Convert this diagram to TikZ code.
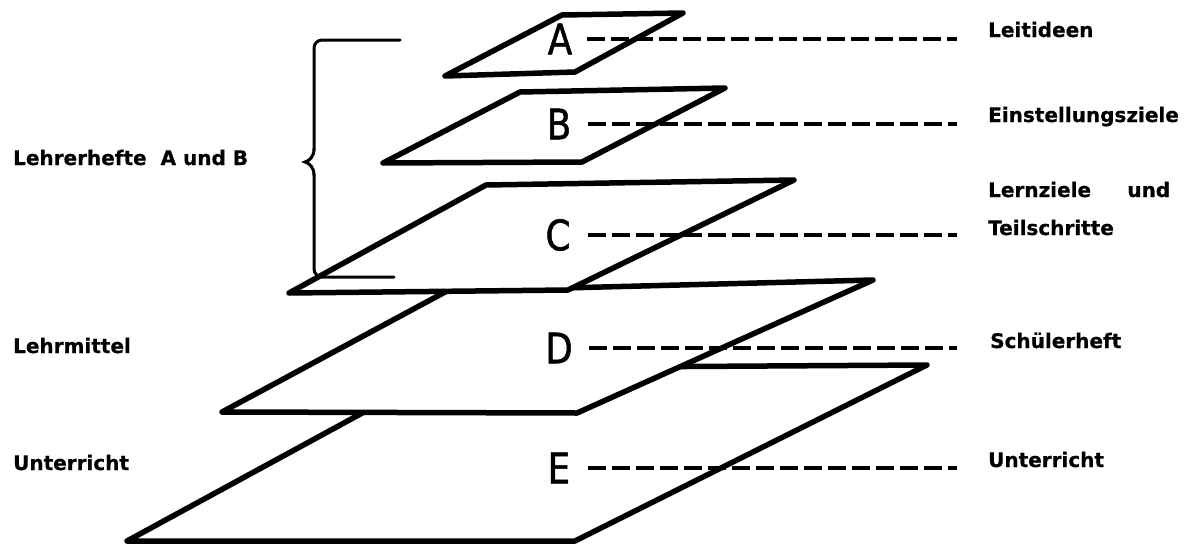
\documentclass[tikz,border=0pt]{standalone}
\usepackage{fontspec}
\setmainfont{DejaVu Sans}
\newfontfamily\bigletterfont[FakeStretch=0.85,FakeBold=1.2]{DejaVu Sans}
\newfontfamily\labelfont{DejaVu Sans}[BoldFont={DejaVu Sans Bold},BoldFeatures={FakeBold=0.6}]
\begin{document}
\begin{tikzpicture}[x=1pt,y=-1pt,
  plane/.style={draw=black,fill=white,line width=5.5pt,line join=round},
  letter/.style={inner sep=0pt,anchor=center,font=\bigletterfont\fontsize{42}{42}\selectfont},
  lab/.style={inner sep=0pt,anchor=base west,font=\labelfont\bfseries\fontsize{20}{24}\selectfont},
  leader/.style={draw=black,line width=3.2pt,dash pattern=on 18pt off 6pt},
  bracketline/.style={draw=black,line width=3pt,line cap=round}]
\useasboundingbox (0,0) rectangle (1192,544);
% planes, bottom to top
\draw[plane] (127,541) -- (575,541) -- (927,365) -- (445,368) -- cycle;
\draw[plane] (222,412) -- (577,413) -- (873,280) -- (447,291) -- cycle;
\draw[plane] (289,293) -- (568,290) -- (794,180) -- (486,185) -- cycle;
\draw[plane] (383,163) -- (582,162) -- (725,88) -- (520,92) -- cycle;
\draw[plane] (445,76) -- (575,72) -- (683,13) -- (562,15) -- cycle;
% letters
\node[letter] (A) at (560,39) {A};
\node[letter] (B) at (559,124) {B};
\node[letter] (C) at (558,235) {C};
\node[letter] (D) at (559,348) {D};
\node[letter] (E) at (559,468) {E};
% leader ends
\coordinate (Ae) at (957,39);
\coordinate (Be) at (957,124);
\coordinate (Ce) at (957,235);
\coordinate (De) at (957,348);
\coordinate (Ee) at (957,468);
\draw[leader] ([xshift=15pt]A.east) -- (Ae);
\draw[leader] ([xshift=17pt]B.east) -- (Be);
\draw[leader] ([xshift=17pt]C.east) -- (Ce);
\draw[leader] ([xshift=16pt]D.east) -- (De);
\draw[leader] ([xshift=18pt]E.east) -- (Ee);
% right labels
\node[lab] (lA) at (988,37) {Leitideen};
\node[lab] (lB) at (988,122) {Einstellungsziele};
\node[lab] (lC1) at (988,197) {\makebox[182pt][s]{Lernziele\hfill und}};
\node[lab] (lC2) at (988,235) {Teilschritte};
\node[lab] (lD) at (990,348) {Schülerheft};
\node[lab] (lE) at (988,467) {Unterricht};
% left labels
\node[lab] (lL1) at (13,165) {Lehrerhefte\hspace{0.7em}A und B};
\node[lab] (lL2) at (13,353) {Lehrmittel};
\node[lab] (lL3) at (13,470) {Unterricht};
% brace
\coordinate (bt) at (400,40);
\coordinate (bb) at (394,277);
\draw[bracketline,rounded corners=8pt] (bt) -- (314,40) -- (314,150);
\draw[bracketline] (314,149) .. controls (314,157) and (309,161) .. (305,162)
  .. controls (309,163) and (314,167) .. (314,175);
\draw[bracketline,rounded corners=8pt] (314,174) -- (314,277) -- (bb);
\end{tikzpicture}
\end{document}
